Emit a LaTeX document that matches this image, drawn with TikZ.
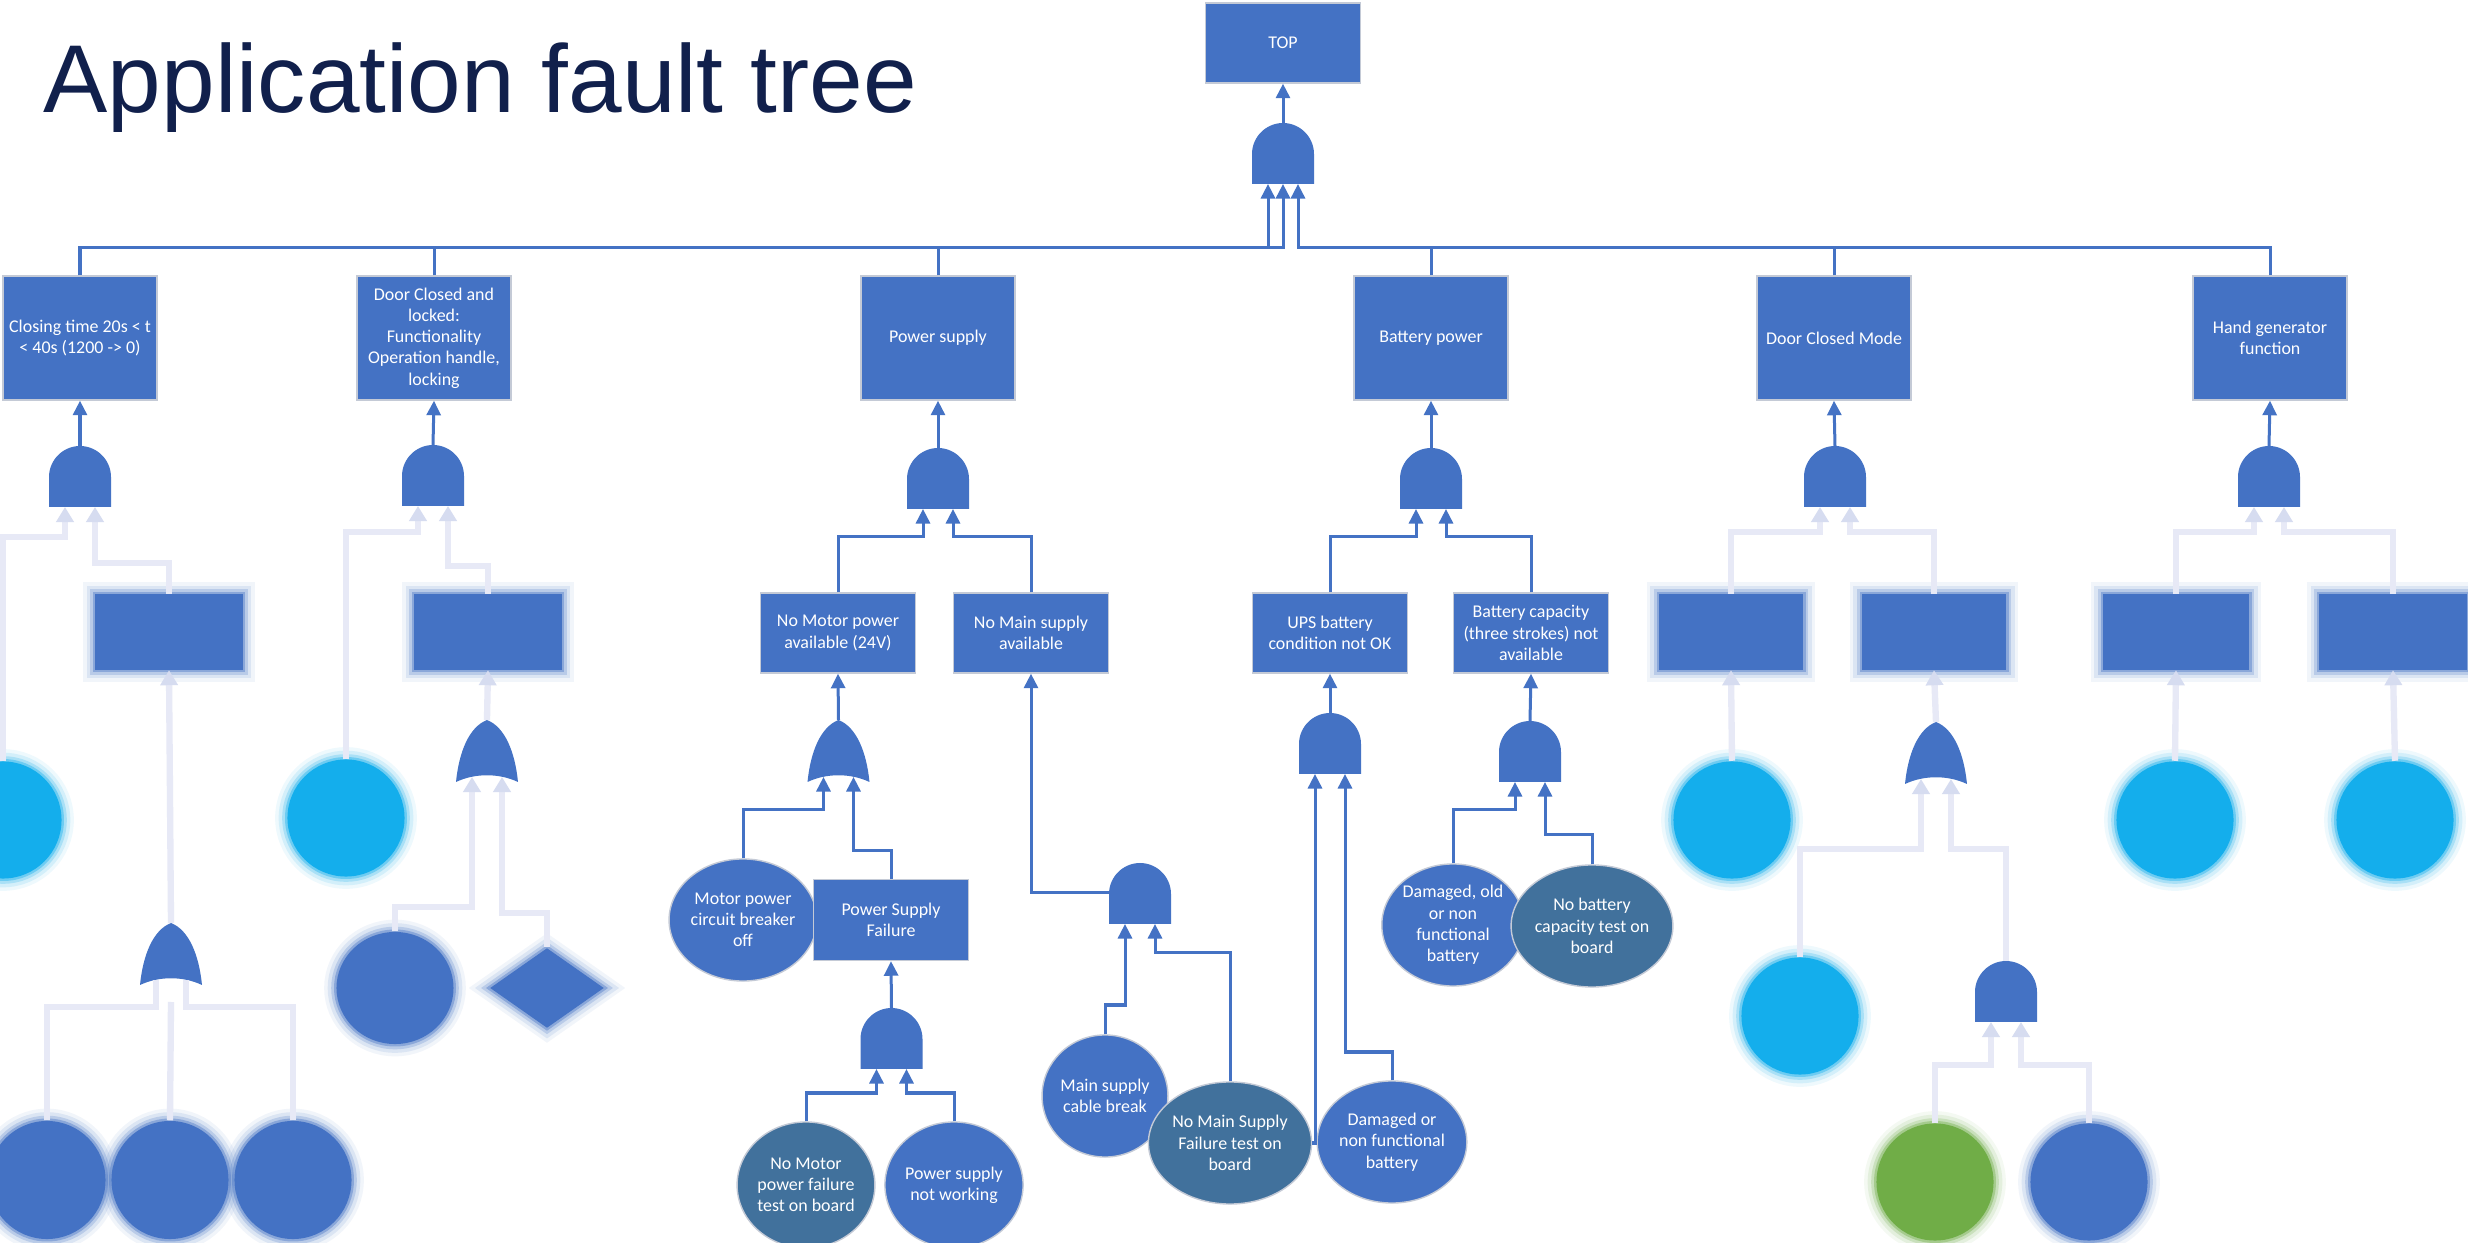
\documentclass[tikz,border=0pt]{standalone}
\usepackage{fontspec}
\setmainfont{Carlito}
\newfontfamily\titlefont{Liberation Sans}
\usetikzlibrary{arrows.meta,shapes.geometric,calc}

\definecolor{ftblue}{RGB}{68,114,196}
\definecolor{ftdark}{RGB}{65,113,156}
\definecolor{ftcyan}{RGB}{20,174,236}
\definecolor{ftgreen}{RGB}{112,173,71}
\definecolor{ftnavy}{RGB}{17,32,76}
\definecolor{ftedge}{RGB}{196,202,214}
\definecolor{ftpale}{RGB}{231,233,246}
\definecolor{ftpaletip}{RGB}{214,220,240}

\tikzset{
  % connectors
  conn/.style={draw=ftblue, line width=0.03cm},
  arr/.style={conn, -{Triangle[width=0.14cm,length=0.145cm]}},
  faint/.style={draw=ftpale, line width=1.8pt},
  faintarr/.style={faint, -{Triangle[width=0.17cm,length=0.15cm,color=ftpaletip]}},
  % labels and event shapes
  lbl/.style={text=white, font=\fontsize{5.1pt}{6.05pt}\selectfont, align=center, inner sep=0pt},
  event/.style={lbl, rectangle, fill=ftblue, draw=ftedge, line width=0.4pt,
    minimum width=1.55cm, minimum height=0.80cm},
  topevent/.style={event, minimum width=1.54cm, minimum height=1.24cm},
  basic/.style={lbl, ellipse, fill=#1, draw=ftedge, line width=0.4pt,
    minimum width=1.22cm, minimum height=1.22cm},
  basic/.default=ftblue,
  % soft-edged shapes: fading rims in the fill colour
  soft/.style={fill=#1, draw=none,
    preaction={draw=#1, line width=7pt, draw opacity=0.07},
    preaction={draw=#1, line width=5pt, draw opacity=0.12},
    preaction={draw=#1, line width=3pt, draw opacity=0.22},
    preaction={draw=#1, line width=1.4pt, draw opacity=0.4}},
  softbox/.style={soft=ftblue, rectangle, minimum width=1.47cm, minimum height=0.75cm},
  softball/.style={soft=#1, ellipse, minimum width=1.17cm, minimum height=1.17cm},
  softdiamond/.style={soft=ftblue, diamond, minimum width=1.14cm, minimum height=0.80cm},
  % AND gate: origin at the middle of the flat base
  andgate/.pic={
    \path[pic actions] (-31,0) -- (-31,-30)
      .. controls (-31,-47) and (-17,-61) .. (0,-61)
      .. controls (17,-61) and (31,-47) .. (31,-30) -- (31,0) -- cycle;
    \coordinate (-out) at (0,-61);
    \coordinate (-a) at (-15,0);
    \coordinate (-m) at (0,0);
    \coordinate (-b) at (15,0);
    \coordinate (-w) at (-31,-31);
  },
  % OR gate: origin at the middle of the curved base
  orgate/.pic={
    \path[pic actions] (-31,0)
      .. controls (-28,-30) and (-18,-55) .. (0,-62)
      .. controls (18,-55) and (28,-30) .. (31,0)
      .. controls (12,-9) and (-12,-9) .. (-31,0) -- cycle;
    \coordinate (-out) at (0,-62);
    \coordinate (-a) at (-15,-5);
    \coordinate (-b) at (15,-5);
  },
}

\begin{document}
\begin{tikzpicture}[x=0.01cm, y=-0.01cm]
\useasboundingbox (0,0) rectangle (2468,1243);
\clip (0,0) rectangle (2468,1243);
\fill[white] (0,0) rectangle (2468,1243);

% ---------- title ----------
\node[anchor=base west, inner sep=0pt, text=ftnavy,
  font=\titlefont\fontsize{27.4pt}{30pt}\selectfont] (title) at (43,113) {Application fault tree};

% ---------- top event and first level ----------
\node[event] (top) at (1283,43) {TOP};
\pic[fill=ftblue] (g0) at (1283,184) {andgate};

\node[topevent] (c1) at (80,338) {Closing time 20s < t\\< 40s (1200 -> 0)};
\node[topevent] (c2) at (434,338) {Door Closed and\\locked:\\Functionality\\Operation handle,\\locking};
\node[topevent] (c3) at (938,338) {Power supply};
\node[topevent] (c4) at (1431,338) {Battery power};
\node[topevent] (c5) at (1834,338) {Door Closed Mode};
\node[topevent] (c6) at (2270,338) {Hand generator\\function};

\draw[arr] (g0-out) -- (top.south);
\draw[conn] (c2.north) |- ($(g0-a)+(0,64)$);
\draw[arr] (c1.north) |- ($(g0-a)+(0,64)$) -- (g0-a);
\draw[arr] (c3.north) |- ($(g0-m)+(0,64)$) -- (g0-m);
\draw[conn] (c4.north) |- ($(g0-b)+(0,64)$);
\draw[conn] (c5.north) |- ($(g0-b)+(0,64)$);
\draw[arr] (c6.north) |- ($(g0-b)+(0,64)$) -- (g0-b);

% ---------- soft-edged branches: closing time ----------
\pic[soft=ftblue] (gct) at (80,507) {andgate};
\node[softball=ftcyan] (ct1) at (3,820) {};
\node[softbox] (ctb) at (169,632) {};
\pic[soft=ftblue] (gctor) at (171,985) {orgate};
\node[softball=ftblue, minimum height=1.18cm] (cta) at (47,1180) {};
\node[softball=ftblue, minimum height=1.18cm] (ctm) at (170,1180) {};
\node[softball=ftblue, minimum height=1.18cm] (ctc) at (293,1180) {};

\draw[faintarr] (ct1.north) |- ($(gct-a)+(0,30)$) -- (gct-a);
\draw[faintarr] (ctb.north) |- ($(gct-b)+(0,56)$) -- (gct-b);
\draw[faintarr] (gctor-out) -- (ctb.south);
\draw[faint] (cta.north) |- ($(gctor-a)+(0,27)$) -- (gctor-a);
\draw[faint] (ctm.north) -- ($(gctor-a)!0.5!(gctor-b)+(0,22)$);
\draw[faint] (ctc.north) |- ($(gctor-b)+(0,27)$) -- (gctor-b);

% ---------- soft-edged branches: door closed and locked ----------
\pic[soft=ftblue] (gdc) at (433,506) {andgate};
\node[softball=ftcyan] (dc1) at (346,818) {};
\node[softbox] (dcb) at (488,632) {};
\pic[soft=ftblue] (gdcor) at (487,782) {orgate};
\node[softball=ftblue, minimum height=1.12cm] (dc2) at (395,988) {};
\node[softdiamond] (dcd) at (547,988) {};

\draw[faintarr] (dc1.north) |- ($(gdc-a)+(0,26)$) -- (gdc-a);
\draw[faintarr] (dcb.north) |- ($(gdc-b)+(0,60)$) -- (gdc-b);
\draw[faintarr] (gdcor-out) -- (dcb.south);
\draw[faintarr] (dc2.north) |- ($(gdcor-a)+(0,130)$) -- (gdcor-a);
\draw[faintarr] (dcd.north) |- ($(gdcor-b)+(0,136)$) -- (gdcor-b);

% ---------- soft-edged branches: door closed mode ----------
\pic[soft=ftblue] (gdm) at (1835,507) {andgate};
\node[softbox, minimum width=1.44cm] (dmb1) at (1731,632) {};
\node[softbox, minimum width=1.44cm] (dmb2) at (1934,632) {};
\node[softball=ftcyan] (dm1) at (1732,820) {};
\pic[soft=ftblue] (gdmor) at (1936,784) {orgate};
\node[softball=ftcyan] (dm2) at (1800,1016) {};
\pic[soft=ftblue] (gdmand) at (2006,1022) {andgate};
\node[softball=ftgreen] (dmg) at (1935,1182) {};
\node[softball=ftblue] (dmc) at (2089,1182) {};

\draw[faintarr] (dmb1.north) |- ($(gdm-a)+(0,25)$) -- (gdm-a);
\draw[faintarr] (dmb2.north) |- ($(gdm-b)+(0,25)$) -- (gdm-b);
\draw[faintarr] (dm1.north) -- (dmb1.south);
\draw[faintarr] (gdmor-out) -- (dmb2.south);
\draw[faintarr] (dm2.north) |- ($(gdmor-a)+(0,70)$) -- (gdmor-a);
\draw[faintarr] (gdmand-out) |- ($(gdmor-b)+(0,70)$) -- (gdmor-b);
\draw[faintarr] (dmg.north) |- ($(gdmand-a)+(0,43)$) -- (gdmand-a);
\draw[faintarr] (dmc.north) |- ($(gdmand-b)+(0,43)$) -- (gdmand-b);

% ---------- soft-edged branches: hand generator ----------
\pic[soft=ftblue] (ghg) at (2269,507) {andgate};
\node[softbox, minimum width=1.46cm] (hgb1) at (2176,632) {};
\node[softbox] (hgb2) at (2393,632) {};
\node[softball=ftcyan] (hg1) at (2175,820) {};
\node[softball=ftcyan] (hg2) at (2395,820) {};

\draw[faintarr] (hgb1.north) |- ($(ghg-a)+(0,25)$) -- (ghg-a);
\draw[faintarr] (hgb2.north) |- ($(ghg-b)+(0,25)$) -- (ghg-b);
\draw[faintarr] (hg1.north) -- (hgb1.south);
\draw[faintarr] (hg2.north) -- (hgb2.south);

% outputs of the soft-edged gates into the first level
\draw[arr] (gct-out) -- (c1.south);
\draw[arr] (gdc-out) -- (c2.south);
\draw[arr] (gdm-out) -- (c5.south);
\draw[arr] (ghg-out) -- (c6.south);

% ---------- power supply branch ----------
\pic[fill=ftblue] (gps) at (938,509) {andgate};
\node[event] (nmp) at (838,633) {No Motor power\\available (24V)};
\node[event] (nms) at (1031,633) {No Main supply\\available};
\pic[fill=ftblue] (gor) at (838.5,782) {orgate};
\node[basic] (mpcb) at (743,920) {Motor power\\circuit breaker\\off};
\node[event, minimum height=0.81cm] (psf) at (891,920) {Power Supply\\Failure};
\pic[fill=ftblue] (gpsf) at (891.5,1069) {andgate};
\node[basic=ftdark, minimum height=1.26cm] (nmpf) at (806,1185) {No Motor\\power failure\\test on board};
\node[basic, minimum height=1.26cm] (psnw) at (954,1185) {Power supply\\not working};
\pic[fill=ftblue] (gms) at (1140,924) {andgate};
\node[basic] (msc) at (1105,1096) {Main supply\\cable break};
\node[basic=ftdark] (nmsf) at (1230,1143) {No Main Supply\\Failure test on\\board};

\draw[arr] (gps-out) -- (c3.south);
\draw[arr] (nmp.north) |- ($(gps-a)+(0,28)$) -- (gps-a);
\draw[arr] (nms.north) |- ($(gps-b)+(0,28)$) -- (gps-b);
\draw[arr] (gor-out) -- (nmp.south);
\draw[arr] (mpcb.north) |- ($(gor-a)+(0,33)$) -- (gor-a);
\draw[arr] (psf.north) |- ($(gor-b)+(0,74)$) -- (gor-b);
\draw[arr] (gpsf-out) -- (psf.south);
\draw[arr] (nmpf.north) |- ($(gpsf-a)+(0,24)$) -- (gpsf-a);
\draw[arr] (psnw.north) |- ($(gpsf-b)+(0,24)$) -- (gpsf-b);
\draw[arr] (gms-w) -| (nms.south);
\draw[arr] (msc.north) |- ($(gms-a)+(0,81)$) -- (gms-a);
\draw[arr] (nmsf.north) |- ($(gms-b)+(0,29)$) -- (gms-b);

% ---------- battery power branch ----------
\pic[fill=ftblue] (gbat) at (1431,509) {andgate};
\node[event] (ups) at (1330,633) {UPS battery\\condition not OK};
\node[event] (bcap) at (1531,633) {Battery capacity\\(three strokes) not\\available};
\pic[fill=ftblue] (gups) at (1330,774) {andgate};
\node[basic] (dnfb) at (1392,1142) {Damaged or\\non functional\\battery};
\pic[fill=ftblue] (gbc) at (1530,782) {andgate};
\node[basic] (dob) at (1453,925) {Damaged, old\\or non\\functional\\battery};
\node[basic=ftdark] (nbc) at (1592,926) {No battery\\capacity test on\\board};

\draw[arr] (gbat-out) -- (c4.south);
\draw[arr] (ups.north) |- ($(gbat-a)+(0,28)$) -- (gbat-a);
\draw[arr] (bcap.north) |- ($(gbat-b)+(0,28)$) -- (gbat-b);
\draw[arr] (gups-out) -- (ups.south);
\draw[arr] (nmsf.east) -| (gups-a);
\draw[arr] (dnfb.north) |- ($(gups-b)+(0,278)$) -- (gups-b);
\draw[arr] (gbc-out) -- (bcap.south);
\draw[arr] (dob.north) |- ($(gbc-a)+(0,28)$) -- (gbc-a);
\draw[arr] (nbc.north) |- ($(gbc-b)+(0,53)$) -- (gbc-b);
\end{tikzpicture}
\end{document}
